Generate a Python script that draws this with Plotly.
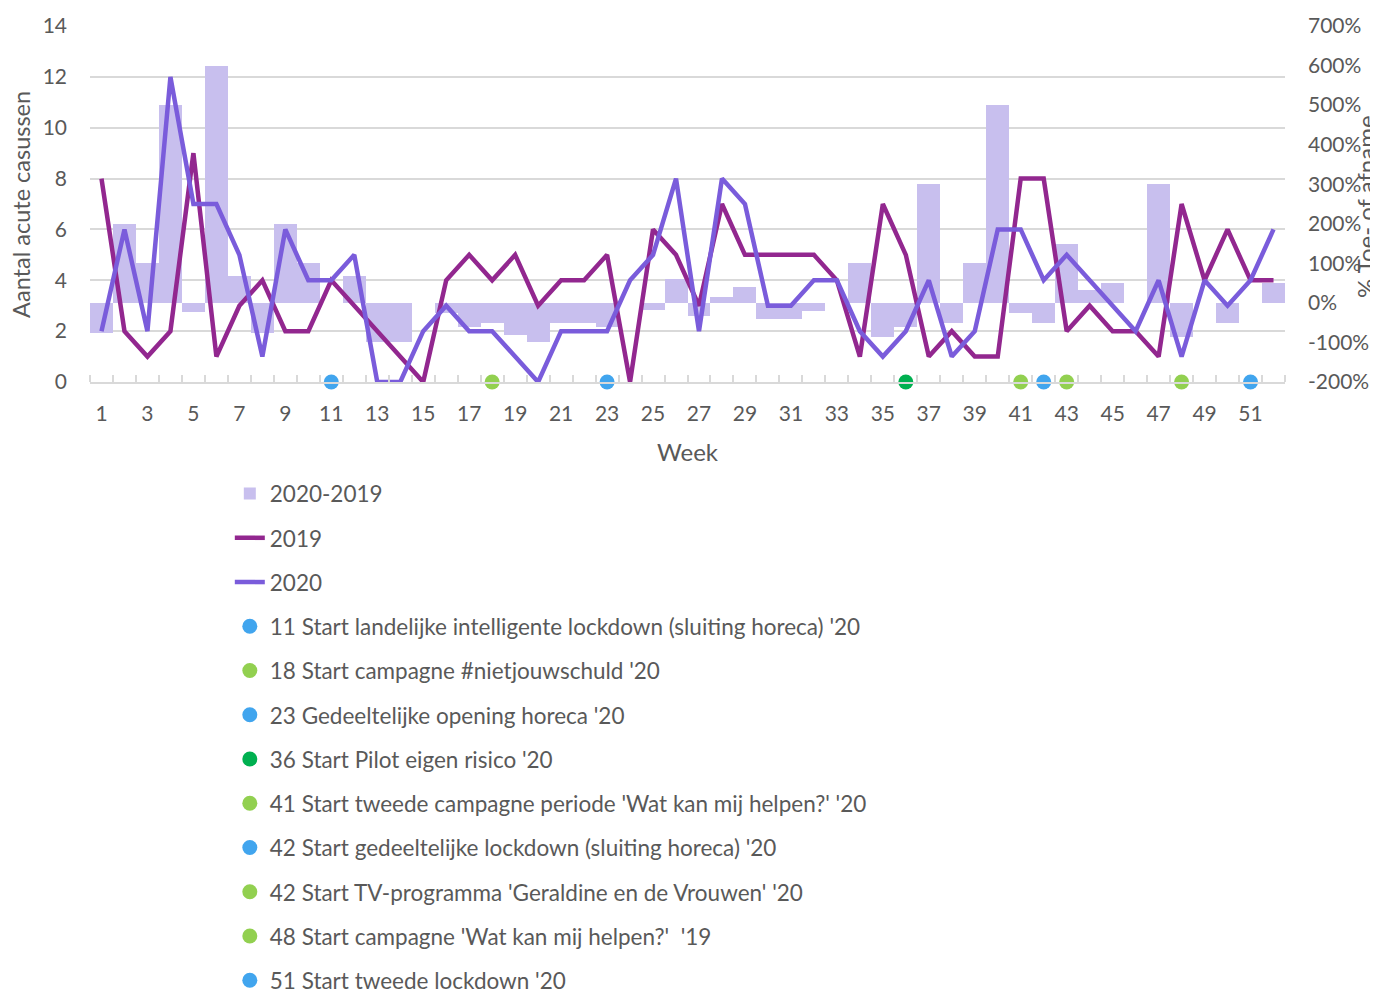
import plotly.graph_objects as go

weeks = list(range(1, 53))
cases_2019 = [8, 2, 1, 2, 9, 1, 3, 4, 2, 2,
              4, 3, 2, 1, 0, 4, 5, 4, 5, 3,
              4, 4, 5, 0, 6, 5, 3, 7, 5, 5,
              5, 5, 4, 1, 7, 5, 1, 2, 1, 1,
              8, 8, 2, 3, 2, 2, 1, 7, 4, 6,
              4, 4]
cases_2020 = [2, 6, 2, 12, 7, 7, 5, 1, 6, 4,
              4, 5, 0, 0, 2, 3, 2, 2, 1, 0,
              2, 2, 2, 4, 5, 8, 2, 8, 7, 3,
              3, 4, 4, 2, 1, 2, 4, 1, 2, 6,
              6, 4, 5, 4, 3, 2, 4, 1, 4, 3,
              4, 6]
pct_change = [-75, 200, 100, 500, -22, 600, 67, -75, 200, 100,
              0, 67, -100, -100, None, -25, -60, -50, -80, -100,
              -50, -50, -60, None, -17, 60, -33, 14, 40, -40,
              -40, -20, 0, 100, -86, -60, 300, -50, 100, 500,
              -25, -50, 150, 33, 50, 0, 300, -86, 0, -50,
              0, 50]

week_tick_vals = [1, 3, 5, 7, 9, 11, 13, 15, 17, 19, 21, 23, 25,
                  27, 29, 31, 33, 35, 37, 39, 41, 43, 45, 47, 49, 51]
week_tick_text = [str(w) for w in week_tick_vals]
pct_tick_vals = [-200, -100, 0, 100, 200, 300, 400, 500, 600, 700]
pct_tick_text = ["-200%", "-100%", "0%", "100%", "200%", "300%",
                 "400%", "500%", "600%", "700%"]

event_labels = [
    "11 Start landelijke intelligente lockdown (sluiting horeca) '20",
    "18 Start campagne #nietjouwschuld '20",
    "23 Gedeeltelijke opening horeca '20",
    "36 Start Pilot eigen risico '20",
    "41 Start tweede campagne periode 'Wat kan mij helpen?' '20",
    "42 Start gedeeltelijke lockdown (sluiting horeca) '20",
    "42 Start TV-programma 'Geraldine en de Vrouwen' '20",
    "48 Start campagne 'Wat kan mij helpen?'\u00a0 '19",
    "51 Start tweede lockdown '20",
]
event_weeks = [11, 18, 23, 36, 41, 42, 43, 48, 51]
event_values = [0, 0, 0, 0, 0, 0, 0, 0, 0]
event_colors = ["#41A5EE", "#92D050", "#41A5EE", "#00B050", "#92D050",
                "#41A5EE", "#92D050", "#92D050", "#41A5EE"]

FONT = "Lato"
TXT = "#595959"
GRID = "#D9D9D9"

fig = go.Figure()

fig.add_trace(go.Bar(
    x=weeks, y=pct_change, name="2020-2019", width=1.0,
    marker=dict(color="#C8BFEE", line=dict(width=0)),
    xaxis="x", yaxis="y", legendgroup="a",
))
fig.add_trace(go.Scatter(
    x=weeks, y=cases_2019, name="2019", mode="lines",
    line=dict(color="#92278F", width=4.5), xaxis="x", yaxis="y2",
    legendgroup="b", cliponaxis=False,
))
fig.add_trace(go.Scatter(
    x=weeks, y=cases_2020, name="2020", mode="lines",
    line=dict(color="#7A5CDB", width=4.5), xaxis="x", yaxis="y2",
    legendgroup="c", cliponaxis=False,
))
for i, (lab, wk, val, col) in enumerate(zip(event_labels, event_weeks, event_values, event_colors)):
    fig.add_trace(go.Scatter(
        x=[wk], y=[val], name=lab, mode="markers",
        marker=dict(color=col, size=15), xaxis="x", yaxis="y2",
        legendgroup="e%d" % i, cliponaxis=False,
    ))

fig.update_layout(
    width=1378, height=1040,
    margin=dict(l=82, r=101, t=18, b=666, autoexpand=False),
    paper_bgcolor="white", plot_bgcolor="white",
    font=dict(family=FONT, size=21, color=TXT),
    showlegend=True,
    barmode="overlay",
    bargap=0,
    legend=dict(
        x=0.117, xanchor="left", y=-0.254, yanchor="top",
        font=dict(family=FONT, size=22.5, color=TXT),
        tracegroupgap=12, traceorder="grouped",
        bgcolor="rgba(0,0,0,0)", borderwidth=0,
        maxheight=800,
    ),
    xaxis=dict(
        range=[0.5, 52.5], tickmode="array",
        tickvals=week_tick_vals, ticktext=week_tick_text,
        ticks="", ticklabelstandoff=12, automargin=False,
        showline=True, linecolor=GRID, linewidth=1.5,
        showgrid=False, zeroline=False,
        tickfont=dict(size=21, color=TXT),
        minor=dict(tick0=0.5, dtick=1, ticks="inside", ticklen=7,
                   tickcolor=GRID, tickwidth=1.5, showgrid=False),
    ),
    yaxis=dict(
        range=[-200, 700], tickmode="array",
        tickvals=pct_tick_vals, ticktext=pct_tick_text, side="right",
        showgrid=False, zeroline=False, automargin=False,
        ticks="", ticklabelstandoff=22,
        tickfont=dict(size=21, color=TXT),
    ),
    yaxis2=dict(
        range=[0, 14], dtick=2, side="left", overlaying="y",
        showgrid=True, gridcolor=GRID, gridwidth=1.5, automargin=False,
        zeroline=False, ticks="", ticklabelstandoff=22,
        tickfont=dict(size=21, color=TXT),
    ),
    annotations=[
        dict(text="Week", x=0.5004, y=-0.1966, xref="paper", yref="paper",
             xanchor="center", yanchor="middle",
             showarrow=False, font=dict(size=24, color=TXT)),
        dict(text="Aantal acute casussen", x=-0.0578, y=0.5, xref="paper", yref="paper",
             xanchor="center", yanchor="middle",
             showarrow=False, textangle=-90, font=dict(size=23.5, color=TXT)),
        dict(text="% Toe- of afname", x=1.0678, y=0.4916, xref="paper", yref="paper",
             xanchor="center", yanchor="middle",
             showarrow=False, textangle=-90, font=dict(size=24, color=TXT)),
    ],
)

fig.write_html("out.html")
